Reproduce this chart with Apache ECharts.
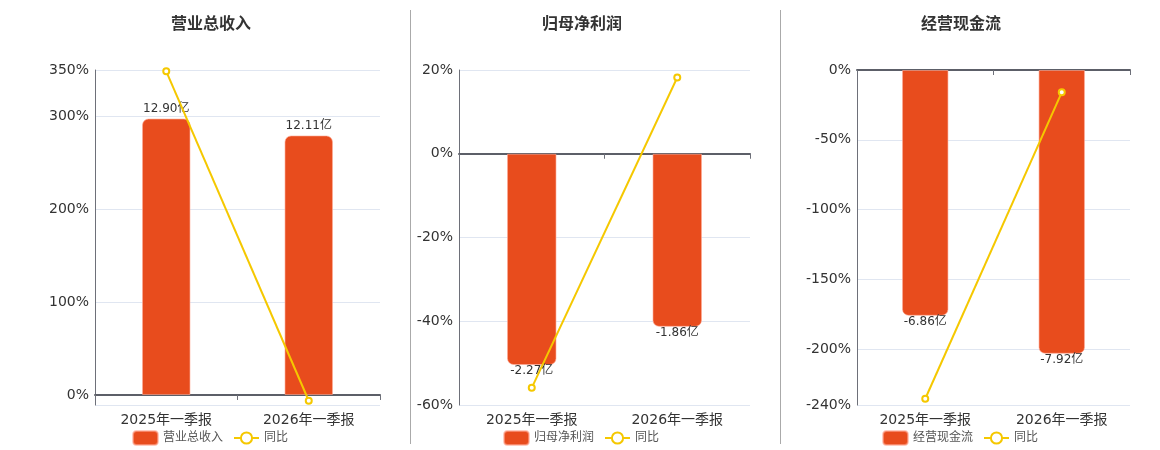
<!DOCTYPE html>
<html>
<head>
<meta charset="utf-8">
<script src="https://cdn.jsdelivr.net/npm/echarts@6/dist/echarts.min.js"></script>
<style>
html,body{margin:0;padding:0;background:#fff;}
#c{width:1160px;height:450px;}
</style>
</head>
<body>
<div id="c"></div>
<script>
// ---- data ----
var categories = ['2025年一季报', '2026年一季报'];
var titles = ['营业总收入', '归母净利润', '经营现金流'];
var revenueValues = [12.90, 12.11];      // 亿
var revenueYoY = [348.6, -6.2];          // %
var profitValues = [-2.27, -1.86];       // 亿
var profitYoY = [-55.9, 18.2];           // %
var cashValues = [-6.86, -7.92];         // 亿
var cashYoY = [-235.5, -16.0];           // %
var pctTicks1 = [0, 100, 200, 300, 350];
var pctTicks2 = [-60, -40, -20, 0, 20];
var pctTicks3 = [-240, -200, -150, -100, -50, 0];

var barValues = [revenueValues, profitValues, cashValues];
var yoyValues = [revenueYoY, profitYoY, cashYoY];
var pctTickSets = [pctTicks1, pctTicks2, pctTicks3];

// ---- layout ----
var grids = [
  {left: 95, width: 285, top: 70, height: 335},
  {left: 459, width: 291, top: 70, height: 335},
  {left: 857, width: 273, top: 70, height: 335}
];
var centers = [210, 581, 960];
var pctRanges = [[-10.8, 350], [-60, 20], [-240, 0]];
var barRanges = [[-0.468, 15.166], [-2.7, 0.9], [-9.35, 0]];

var BAR = '#E84C1D', LINE = '#F5C800', TXT = '#333', AXIS = '#6E7079';
var FONT = '"DejaVu Sans", "Noto Sans CJK SC", sans-serif';

var option = {
  animation: false,
  textStyle: {fontFamily: FONT},
  title: [], legend: [], grid: [], xAxis: [], yAxis: [], series: [],
  graphic: [
    {type: 'line', shape: {x1: 410.5, y1: 10, x2: 410.5, y2: 444}, style: {stroke: '#aaa', lineWidth: 1}},
    {type: 'line', shape: {x1: 780.5, y1: 10, x2: 780.5, y2: 444}, style: {stroke: '#aaa', lineWidth: 1}}
  ]
};

for (var i = 0; i < 3; i++) {
  var neg = barValues[i][0] < 0;
  option.title.push({
    text: titles[i], left: centers[i] - 4, top: 12, textAlign: 'center',
    textStyle: {fontSize: 16, fontWeight: 'bold', color: TXT, fontFamily: FONT}
  });
  option.legend.push({
    data: [titles[i], '同比'], left: centers[i] - 83, top: 425,
    itemWidth: 25, itemHeight: 14, itemGap: 10,
    textStyle: {fontSize: 12, color: '#555', fontFamily: FONT}
  });
  option.grid.push(grids[i]);
  // label x axis (bottom)
  option.xAxis.push({
    type: 'category', gridIndex: i, data: categories, position: 'bottom',
    axisLine: {show: false, onZero: false}, axisTick: {show: false},
    axisLabel: {fontSize: 14, color: TXT, margin: 8, fontFamily: FONT}
  });
  // zero-line x axis
  option.xAxis.push({
    type: 'category', gridIndex: i, data: categories, position: 'bottom',
    axisLine: {show: true, onZero: true, onZeroAxisIndex: 2 * i, lineStyle: {color: '#5c5f68', width: 2}},
    axisTick: {show: true, length: 5, lineStyle: {color: AXIS}},
    axisLabel: {show: false}
  });
  var ticks = pctTickSets[i];
  var tickVals = ticks.slice();
  if (tickVals.indexOf(pctRanges[i][0]) < 0) tickVals.unshift(pctRanges[i][0]);
  option.yAxis.push({
    type: 'value', gridIndex: i, position: 'left',
    min: pctRanges[i][0], max: pctRanges[i][1],
    axisLine: {show: true, lineStyle: {color: AXIS}},
    axisTick: {show: false, customValues: tickVals},
    axisLabel: {fontSize: 14, color: TXT, margin: 6, formatter: '{value}%', customValues: ticks, fontFamily: FONT},
    splitLine: {show: true, lineStyle: {color: '#E0E6F1'}}
  });
  option.yAxis.push({
    type: 'value', gridIndex: i, show: false,
    min: barRanges[i][0], max: barRanges[i][1],
    splitLine: {show: false}
  });
  option.series.push({
    name: titles[i], type: 'bar', xAxisIndex: 2 * i, yAxisIndex: 2 * i + 1,
    data: barValues[i], barWidth: '34%',
    itemStyle: {color: BAR, borderRadius: neg ? [0, 0, 6, 6] : [6, 6, 0, 0],
      borderColor: 'rgba(255,170,150,0.6)', borderWidth: 1},
    label: {show: true, position: neg ? 'bottom' : 'top', distance: neg ? 0 : 4,
      fontSize: 12, color: TXT, fontFamily: FONT,
      formatter: function (p) { return p.value.toFixed(2) + '亿'; }}
  });
  option.series.push({
    name: '同比', type: 'line', xAxisIndex: 2 * i, yAxisIndex: 2 * i,
    data: yoyValues[i], symbol: 'emptyCircle', symbolSize: 6, z: 5,
    lineStyle: {color: LINE, width: 2}, itemStyle: {color: LINE, borderWidth: 1.5}
  });
}

var chart = echarts.init(document.getElementById('c'));
chart.setOption(option);
</script>
</body>
</html>
